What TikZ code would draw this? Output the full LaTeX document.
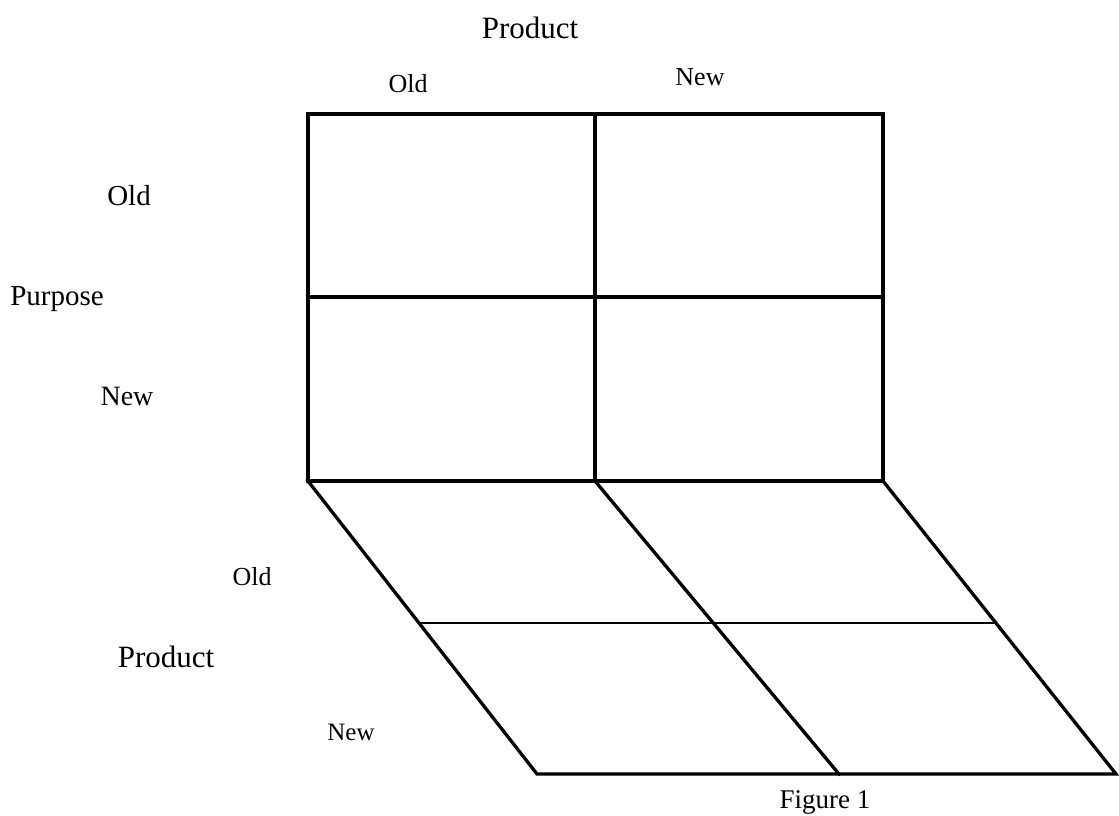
\documentclass[tikz,border=0pt]{standalone}
\usepackage{fontspec}
\setmainfont{Liberation Serif}
\begin{document}
\begin{tikzpicture}[x=1pt,y=-1pt,
  grid/.style={line width=3.3pt,line join=miter,line cap=rect},
  thin grid/.style={line width=2pt},
  lbl/.style={anchor=base,inner sep=0pt,outer sep=0pt},
  fs/.style={font=\fontsize{#1}{#1}\selectfont}]
\useasboundingbox (0,0) rectangle (1119,815);
% front grid corners
\coordinate (TL) at (308,114); \coordinate (TM) at (595,114); \coordinate (TR) at (883,114);
\coordinate (ML) at (308,297); \coordinate (MM) at (595,297); \coordinate (MR) at (883,297);
\coordinate (BL) at (308,481); \coordinate (BM) at (595,481); \coordinate (BR) at (883,481);
% floor grid corners
\coordinate (FL) at (537,774); \coordinate (FM) at (839,774); \coordinate (FR) at (1116,774);
\coordinate (CL) at (420,623); \coordinate (CM) at (713,623); \coordinate (CR) at (996,623);
% front grid
\draw[grid] (TL) rectangle (BR);
\draw[grid] (TM) -- (BM);
\draw[grid] (ML) -- (MR);
% floor grid
\draw[grid] (BL) -- (FL) -- (FR) -- (BR);
\draw[grid] (BM) -- (FM);
\draw[thin grid] (CL) -- (CM) -- (CR);
% labels
\node[lbl,fs=31] (ptop) at (530,38) {Product};
\node[lbl,fs=26] (oldtop) at (408,92) {Old};
\node[lbl,fs=26] (newtop) at (700,85) {New};
\node[lbl,fs=29] (oldleft) at (129,205) {Old};
\node[lbl,fs=29] (purpose) at (57,305) {Purpose};
\node[lbl,fs=28] (newleft) at (127,405) {New};
\node[lbl,fs=26] (oldbot) at (252,585) {Old};
\node[lbl,fs=31] (pbot) at (166,667) {Product};
\node[lbl,fs=25] (newbot) at (351,740) {New};
\node[lbl,fs=27] (fig) at (825,808) {Figure 1};
\end{tikzpicture}
\end{document}
